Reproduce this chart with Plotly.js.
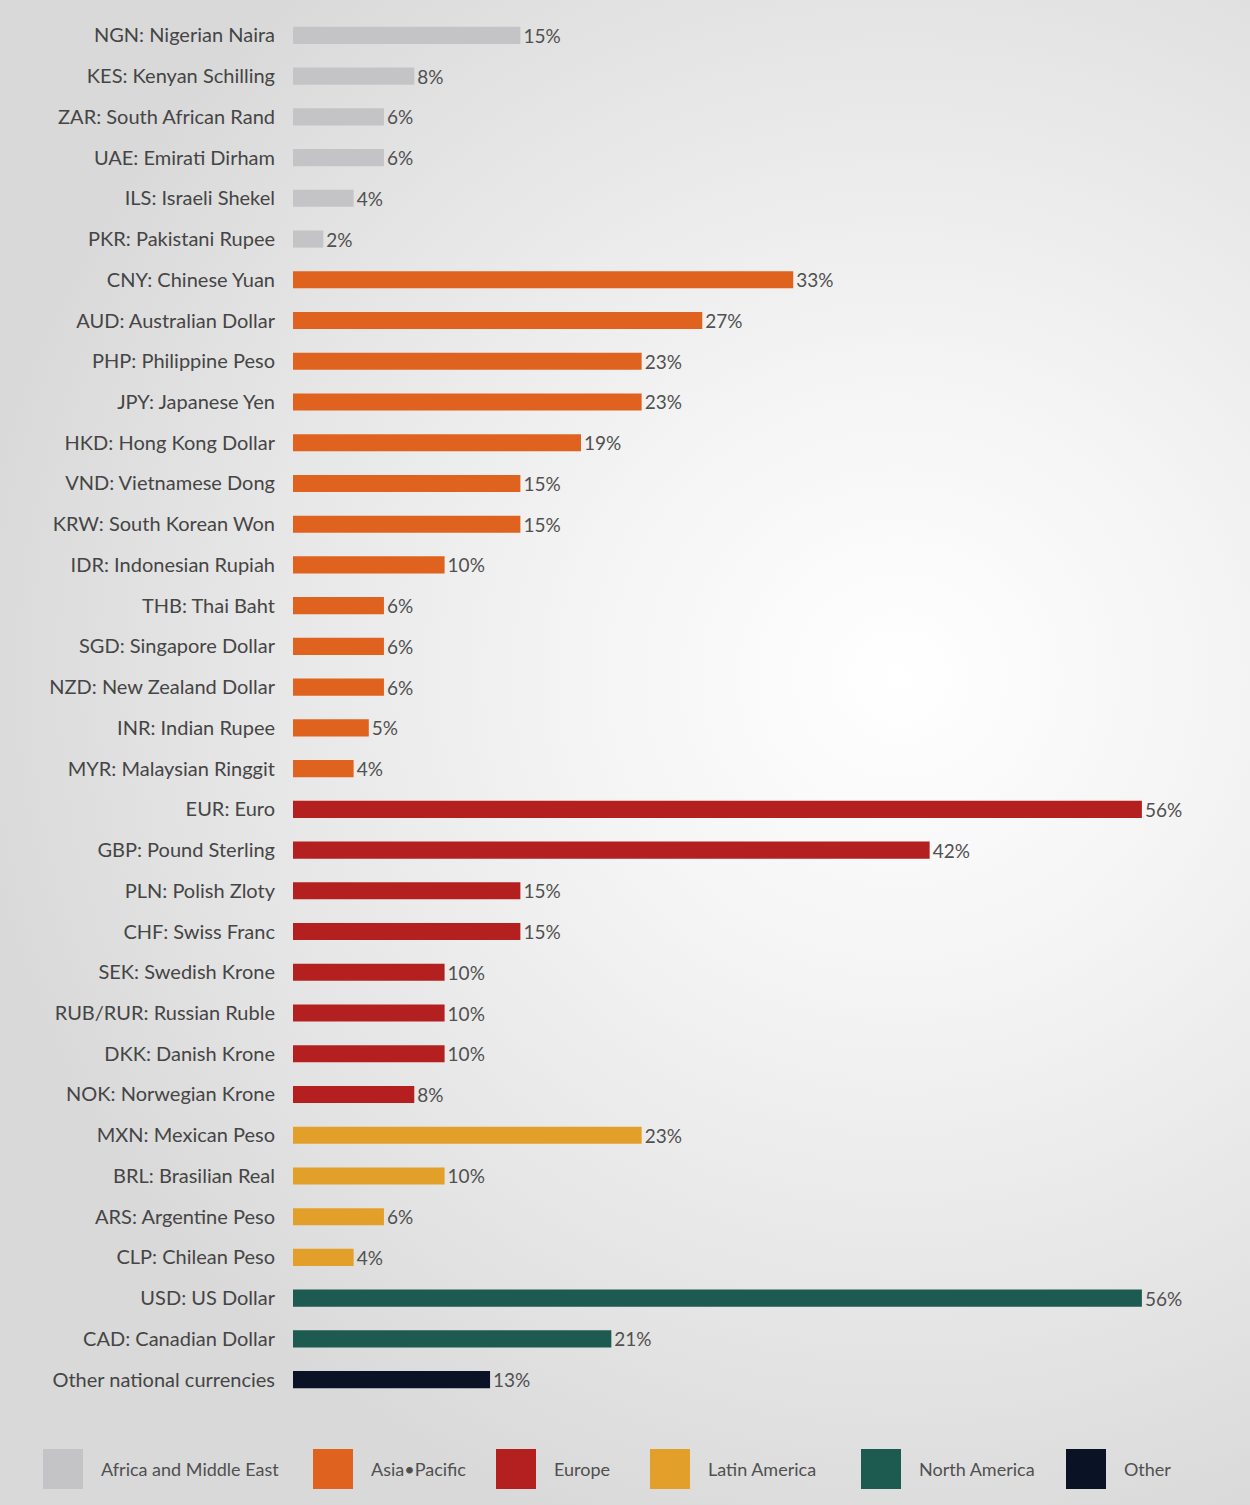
<!DOCTYPE html>
<html><head><meta charset="utf-8">
<script src="https://cdn.plot.ly/plotly-3.0.1.min.js"></script>
<style>
html,body{margin:0;padding:0;}
body{width:1250px;height:1505px;background:radial-gradient(ellipse 75% 60% at 72% 45%, #ffffff 0%, #f4f4f4 35%, #e4e4e4 75%, #d9d9d9 100%);}
#chart{width:1250px;height:1505px;}
</style></head>
<body><div id="chart"></div>
<script>
const regions = ["Africa and Middle East","Asia-Pacific","Europe","Latin America","North America","Other"];
const regionColors = ["#c4c4c7","#e0621f","#b3201f","#e2a02a","#1d5a4f","#0a1226"];
const legendLabels = ["Africa and Middle East","Asia•Pacific","Europe","Latin America","North America","Other"];

const africaLabels = ["NGN: Nigerian Naira","KES: Kenyan Schilling","ZAR: South African Rand","UAE: Emirati Dirham","ILS: Israeli Shekel","PKR: Pakistani Rupee"];
const africaValues = [15,8,6,6,4,2];
const asiaLabels = ["CNY: Chinese Yuan","AUD: Australian Dollar","PHP: Philippine Peso","JPY: Japanese Yen","HKD: Hong Kong Dollar","VND: Vietnamese Dong","KRW: South Korean Won","IDR: Indonesian Rupiah","THB: Thai Baht","SGD: Singapore Dollar","NZD: New Zealand Dollar","INR: Indian Rupee","MYR: Malaysian Ringgit"];
const asiaValues = [33,27,23,23,19,15,15,10,6,6,6,5,4];
const europeLabels = ["EUR: Euro","GBP: Pound Sterling","PLN: Polish Zloty","CHF: Swiss Franc","SEK: Swedish Krone","RUB/RUR: Russian Ruble","DKK: Danish Krone","NOK: Norwegian Krone"];
const europeValues = [56,42,15,15,10,10,10,8];
const latamLabels = ["MXN: Mexican Peso","BRL: Brasilian Real","ARS: Argentine Peso","CLP: Chilean Peso"];
const latamValues = [23,10,6,4];
const naLabels = ["USD: US Dollar","CAD: Canadian Dollar"];
const naValues = [56,21];
const otherLabels = ["Other national currencies"];
const otherValues = [13];

const groups = [
  [africaLabels, africaValues],
  [asiaLabels, asiaValues],
  [europeLabels, europeValues],
  [latamLabels, latamValues],
  [naLabels, naValues],
  [otherLabels, otherValues]
];

const allLabels = groups.flatMap(g => g[0]);

const valueFont = {family: 'Lato, sans-serif', size: 19, color: '#505050'};
const traces = groups.map((g, i) => ({
  type: 'bar',
  orientation: 'h',
  name: regions[i],
  y: g[0],
  x: g[1],
  marker: {color: regionColors[i]},
  width: 0.42,
  text: g[1].map(v => v + '%'),
  textposition: 'outside',
  constraintext: 'none',
  cliponaxis: false,
  textfont: valueFont,
  outsidetextfont: valueFont,
  hoverinfo: 'x+y',
  showlegend: false
}));

const L = 293, R = 49, T = 15, B = 105, W = 1250, H = 1505;
const plotW = W - L - R, plotH = H - T - B;
const shapes = [];
const annotations = [];
const legendX = [43, 313, 496, 650, 861, 1066];
legendLabels.forEach((lab, i) => {
  shapes.push({type: 'rect', xref: 'paper', yref: 'paper', layer: 'above',
    x0: (legendX[i] - L) / plotW, x1: (legendX[i] + 40 - L) / plotW,
    y0: -(1489 - (H - B)) / plotH, y1: -(1449 - (H - B)) / plotH,
    line: {width: 0}, fillcolor: regionColors[i]});
  annotations.push({xref: 'paper', yref: 'paper', x: (legendX[i] + 56 - L) / plotW, y: -(1469 - (H - B)) / plotH,
    xanchor: 'left', yanchor: 'middle',
    text: lab, showarrow: false, font: {family: 'Lato, sans-serif', size: 18, color: '#505050'}});
});

const layout = {
  width: W, height: H,
  margin: {l: L, r: R, t: T, b: B},
  paper_bgcolor: 'rgba(0,0,0,0)',
  plot_bgcolor: 'rgba(0,0,0,0)',
  barmode: 'overlay',
  showlegend: false,
  xaxis: {range: [0, 59.9], visible: false, fixedrange: true},
  yaxis: {type: 'category', categoryorder: 'array', categoryarray: allLabels, autorange: 'reversed',
    showgrid: false, zeroline: false, showline: false, ticks: 'outside', ticklen: 13, tickcolor: 'rgba(0,0,0,0)',
    tickfont: {family: 'Lato, sans-serif', size: 20, color: '#454545'}},
  shapes: shapes,
  annotations: annotations
};

Plotly.newPlot('chart', traces, layout, {displayModeBar: false, staticPlot: true});
</script>
</body></html>
